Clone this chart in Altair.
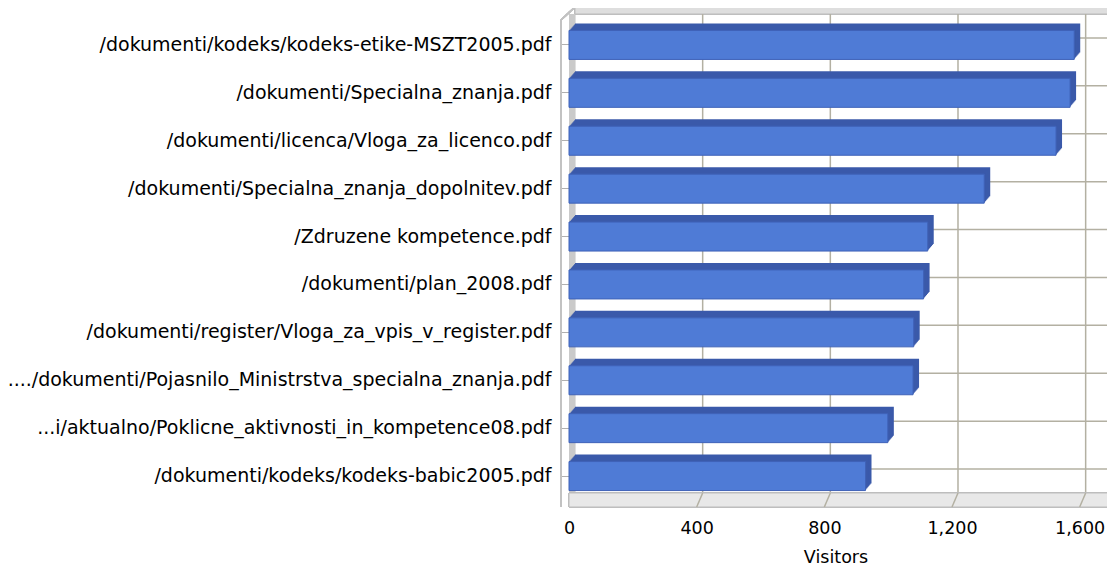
import altair as alt
import pandas as pd

# ---- data -------------------------------------------------------------
pages = [
    "/dokumenti/kodeks/kodeks-etike-MSZT2005.pdf",
    "/dokumenti/Specialna_znanja.pdf",
    "/dokumenti/licenca/Vloga_za_licenco.pdf",
    "/dokumenti/Specialna_znanja_dopolnitev.pdf",
    "/Zdruzene kompetence.pdf",
    "/dokumenti/plan_2008.pdf",
    "/dokumenti/register/Vloga_za_vpis_v_register.pdf",
    "..../dokumenti/Pojasnilo_Ministrstva_specialna_znanja.pdf",
    "...i/aktualno/Poklicne_aktivnosti_in_kompetence08.pdf",
    "/dokumenti/kodeks/kodeks-babic2005.pdf",
]
visitors = [1583, 1570, 1526, 1301, 1124, 1111, 1080, 1078, 999, 929]
x_ticks = [0, 400, 800, 1200, 1600]
grid_ticks = [400, 800, 1200, 1600]

df = pd.DataFrame({"page": pages, "visitors": visitors})
grid_df = pd.DataFrame({"tick": grid_ticks})

# ---- style ------------------------------------------------------------
W, H = 533, 479
XMAX = 1670
DX, DY = 6, -7
FONT = "DejaVu Sans"
FS_Y = 19
FS_X = 17.5
FRONT = "#4F7BD6"
EDGE = "#3F62B8"
SIDE = "#3B5AAA"
GRID = "#B3B0A2"
FRAME = "#C2C2C2"
XTITLE = "Visitors"

xs = alt.Scale(domain=[0, XMAX], nice=False, zero=True)
ys = alt.Scale(domain=pages, paddingInner=0, paddingOuter=0)

x_axis = alt.Axis(values=x_ticks, format=",d", grid=False, domain=False,
                  ticks=False, labelPadding=19, labelFlush=False,
                  labelFont=FONT, labelFontSize=FS_X, labelColor="#000",
                  titleFont=FONT, titleFontSize=FS_X, titleColor="#000",
                  titleFontWeight="normal", titleY=62,
                  titleBaseline="alphabetic")
y_axis = alt.Axis(domain=False, grid=False, ticks=True, tickSize=8,
                  tickColor="#B0B0B0", labelPadding=10, labelLimit=700,
                  labelFont=FONT, labelFontSize=FS_Y, labelColor="#000")


def X(field="visitors:Q"):
    return alt.X(field, scale=xs, axis=x_axis, title=XTITLE)


def XD(v):
    return alt.datum(v, scale=xs, axis=x_axis, title=XTITLE)


def Y():
    return alt.Y("page:N", scale=ys, sort=pages, axis=y_axis, title=None)


deco = alt.Chart(df)

# back wall
back = deco.mark_rect(fill="white", stroke=FRAME, strokeWidth=1,
                      xOffset=DX, x2Offset=DX, yOffset=DY, y2Offset=DY).encode(
    x=XD(0), x2=alt.datum(XMAX), y=alt.value(0), y2=alt.value(H))

# top thickness band of the frame
top_band = deco.mark_rect(fill="#DEDEDE", stroke="#BDBDBD", strokeWidth=1,
                          xOffset=DX, x2Offset=DX + 4).encode(
    x=XD(0), x2=alt.datum(XMAX), y=alt.value(-14), y2=alt.value(-7))

# right thickness band
right_band = deco.mark_rect(fill="#D4D4D4", stroke="#BDBDBD", strokeWidth=1,
                            xOffset=DX, x2Offset=DX + 4).encode(
    x=XD(XMAX), x2=alt.datum(XMAX), y=alt.value(-14), y2=alt.value(H + 2))

# left wall side strip
left_wall = deco.mark_rect(fill="#CACACA", x2Offset=DX).encode(
    x=XD(0), x2=alt.datum(0), y=alt.value(-7), y2=alt.value(H))

# left front edge line and top-left corner
left_line = deco.mark_rule(color=FRAME, strokeWidth=1.5, xOffset=-8).encode(
    x=XD(0), y=alt.value(-1), y2=alt.value(H + 7))
corner = deco.mark_rule(color=FRAME, strokeWidth=1.5, xOffset=-8, x2Offset=DX).encode(
    x=XD(0), x2=alt.datum(0), y=alt.value(-1), y2=alt.value(-14))

# floor
floor = deco.mark_rect(fill="#E8E8E8", stroke="#BDBDBD", strokeWidth=1,
                       x2Offset=DX).encode(
    x=XD(0), x2=alt.datum(XMAX), y=alt.value(H - 7), y2=alt.value(H + 7))
floor_shadow = deco.mark_rect(fill="#D2D2D2", x2Offset=DX).encode(
    x=XD(0), x2=alt.datum(XMAX), y=alt.value(H - 7), y2=alt.value(H - 2))

# back wall grid (vertical)
vgrid = alt.Chart(grid_df).mark_rule(color=GRID, strokeWidth=1.5,
                                     xOffset=DX, yOffset=DY, y2Offset=DY).encode(
    x=X("tick:Q"), y=alt.value(0), y2=alt.value(H - 1))

# slanted grid lines across the floor
fgrid = alt.Chart(grid_df).mark_rule(color=GRID, strokeWidth=1.5,
                                     xOffset=DX).encode(
    x=X("tick:Q"), x2=alt.X2("tick:Q"),
    y=alt.value(H - 7), y2=alt.value(H + 7))

# back wall grid (horizontal, at category centres)
hgrid = alt.Chart(df).mark_rule(color=GRID, strokeWidth=1.5,
                                xOffset=DX, x2Offset=DX, yOffset=DY).encode(
    y=Y(), x=XD(0), x2=alt.datum(XMAX))

# extruded depth of the bars
NSTEP = 7
depth_layers = []
for k in range(NSTEP, 0, -1):
    ox = DX * k / NSTEP
    oy = DY * k / NSTEP
    depth_layers.append(
        alt.Chart(df).mark_bar(size=29, color=SIDE,
                               xOffset=ox, x2Offset=ox, yOffset=oy, y2Offset=oy).encode(
            x=X(), y=Y()))

# front faces
front = alt.Chart(df).mark_bar(size=29, color=FRONT, stroke=EDGE, strokeWidth=1).encode(
    x=X(), y=Y(), tooltip=["page", "visitors"],
)

chart = alt.layer(
    back, top_band, right_band, left_wall, left_line, corner,
    floor_shadow, floor, vgrid, fgrid, hgrid,
    *depth_layers, front,
).properties(
    width=W, height=H,
    autosize=alt.AutoSizeParams(type="none"),
    padding={"left": 561, "top": 13, "right": 5, "bottom": 68},
    background="white",
).configure_view(stroke=None)

chart.save("out.html", embed_options={"renderer": "svg", "actions": False})
